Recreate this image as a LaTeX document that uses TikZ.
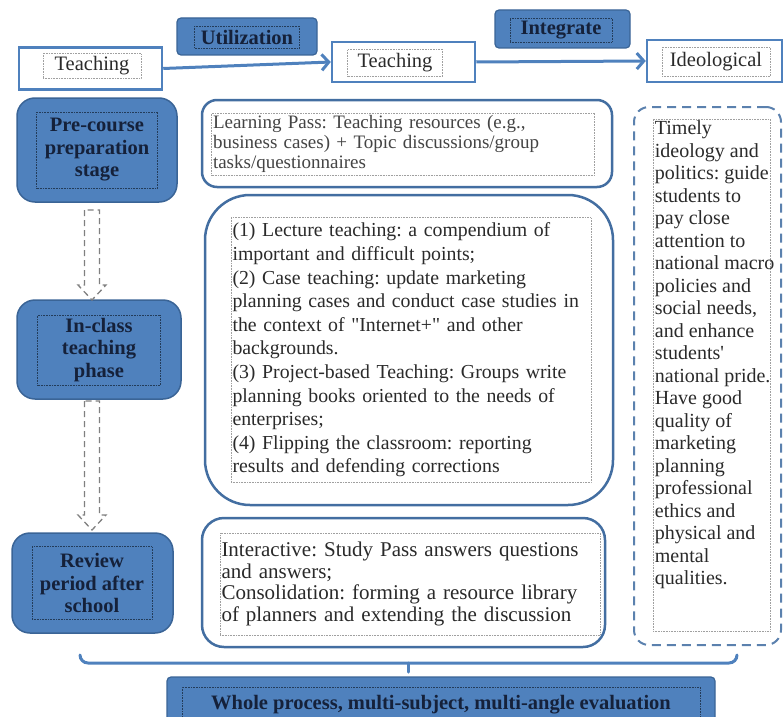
\documentclass[tikz,border=0pt]{standalone}
\usepackage{fontspec}
\setmainfont{Liberation Serif}
\newfontfamily\plainq{Liberation Serif}
\usetikzlibrary{arrows.meta,calc}
\definecolor{boxblue}{HTML}{4F81BD}
\definecolor{edgeblue}{HTML}{3A6496}
\definecolor{navy}{HTML}{15213A}
\definecolor{dotgray}{HTML}{A0A0A0}
\definecolor{inkgray}{HTML}{2A2A2A}
\definecolor{softgray}{HTML}{444444}
\tikzstyle{headbox}=[draw=boxblue,line width=2.5pt,fill=white,minimum width=143,minimum height=42]
\tikzstyle{tagbox}=[draw=edgeblue,line width=1.2pt,fill=boxblue,rounded corners=4pt]
\tikzstyle{stagebox}=[draw=edgeblue,line width=1.5pt,fill=boxblue,rounded corners=18pt]
\tikzstyle{contentbox}=[draw=boxblue!85!black,line width=2.5pt,fill=white]
\tikzstyle{dotframe}=[draw=dotgray,densely dotted,line width=0.6pt,inner sep=1.5pt,text=inkgray]
\tikzstyle{darkframe}=[draw=edgeblue!60!black,densely dotted,line width=0.6pt,inner sep=0pt,text=navy,align=center]
\tikzstyle{flow}=[draw=boxblue,line width=3pt,-{Straight Barb[length=7pt,width=16pt]}]
\tikzstyle{blockarr}=[draw=gray,line width=1.3pt,dash pattern=on 6pt off 4pt]
\tikzstyle{brace}=[draw=boxblue,line width=3pt,line cap=round]
\newcommand{\bodyfont}{\fontsize{19.8}{23.6}\selectfont}
\newcommand{\labelfont}{\fontsize{20.5}{22.5}\selectfont\bfseries}
\newcommand{\sq}{{\plainq"}}
\newcommand{\dashdown}[2]{\draw[blockarr] ($(#1)+(-7.5,0)$) -- ($(#2)+(-7.5,-15)$) -- ($(#2)+(-14,-15)$) -- (#2) -- ($(#2)+(14,-15)$) -- ($(#2)+(7.5,-15)$) -- ($(#1)+(7.5,0)$) -- cycle;}
\frenchspacing

\begin{document}
\begin{tikzpicture}[x=1pt,y=-1pt]
\useasboundingbox (0,0) rectangle (784,717);
% top row
\node[headbox] at (90.5, 68.5) (teach1) {};
\node[dotframe, minimum width=98, minimum height=25, font=\fontsize{20.5}{22}\selectfont] at (92, 66) (teach1in) {Teaching};
\node[tagbox, minimum width=140, minimum height=37] at (247, 36.5) (util) {};
\node[darkframe, minimum width=105, minimum height=22, font=\labelfont] at (247, 37) (utilin) {Utilization};
\node[headbox, minimum height=40] at (403.5, 62) (teach2) {};
\node[dotframe, minimum width=95, minimum height=27, font=\fontsize{20.5}{22}\selectfont] at (395, 63) (teach2in) {Teaching};
\node[tagbox, minimum width=135, minimum height=38] at (562.5, 29) (integ) {};
\node[darkframe, minimum width=102, minimum height=24, font=\labelfont] at (561, 30) (integin) {Integrate};
\node[headbox, minimum width=135] at (714.5, 61) (ideo) {};
\node[dotframe, minimum width=108, minimum height=29, font=\fontsize{20.5}{22}\selectfont] at (716, 62) (ideoin) {Ideological};
\draw[flow] (teach1.east) -- (teach2.west);
\draw[flow] (teach2.east) -- (ideo.west);

% stages on the left
\node[stagebox, minimum width=160, minimum height=104] at (97, 150) (pre) {};
\node[darkframe, minimum width=121, minimum height=76, font=\labelfont] at (97, 150) (prein) {Pre-course\\preparation\\stage};
\node[stagebox, minimum width=164, minimum height=99] at (99, 349.5) (incl) {};
\node[darkframe, minimum width=123, minimum height=70, font=\labelfont] at (99, 350) (inclin) {In-class\\teaching\\phase};
\node[stagebox, minimum width=161, minimum height=100] at (92.5, 583) (rev) {};
\node[darkframe, minimum width=120, minimum height=73, font=\labelfont] at (92, 583) (revin) {Review\\period after\\school};
\coordinate (a1top) at (92, 210);
\coordinate (a1tip) at (92, 300);
\coordinate (a2top) at (92, 401);
\coordinate (a2tip) at (92, 530);
\dashdown{a1top}{a1tip}
\dashdown{a2top}{a2tip}

% content in the middle
\node[contentbox, rounded corners=15pt, minimum width=410, minimum height=87] at (407, 143.5) (prebox) {};
\node[dotframe, text=softgray, minimum width=383, minimum height=62, text width=380, align=left, font=\fontsize{19}{19.8}\selectfont] at (403, 144) (preboxin) {Learning Pass: Teaching resources (e.g.,\\business cases) + Topic discussions/group\\tasks/questionnaires};
\node[contentbox, rounded corners=45pt, minimum width=408, minimum height=310] at (409, 350) (inclbox) {};
\node[dotframe, minimum width=360, minimum height=265, text width=357, align=left, font=\bodyfont] at (411, 350) (inclboxin) {(1) Lecture teaching: a compendium of\\important and difficult points;\\(2) Case teaching: update marketing\\planning cases and conduct case studies in\\the context of \sq Internet+\sq{} and other\\backgrounds.\\(3) Project-based Teaching: Groups write\\planning books oriented to the needs of\\enterprises;\\(4) Flipping the classroom: reporting\\results and defending corrections};
\node[contentbox, rounded corners=22pt, minimum width=403, minimum height=129] at (403.5, 582.5) (revbox) {};
\node[dotframe, minimum width=380, minimum height=102, text width=377, align=left, font=\fontsize{21}{21.5}\selectfont] at (410, 584) (revboxin) {Interactive: Study Pass answers questions\\and answers;\\Consolidation: forming a resource library\\of planners and extending the discussion};

% ideological column
\node[contentbox, draw=boxblue!75!gray, dash pattern=on 9pt off 6pt, line width=2pt, rounded corners=15pt, minimum width=147, minimum height=538] at (707.5, 376) (ideobox) {};
\node[dotframe, minimum width=117, minimum height=512] at (711.5, 375) (ideoboxin) {};
\node[anchor=north west, inner sep=2pt, align=left, text=inkgray, font=\fontsize{20}{22.5}\selectfont] at (ideoboxin.north west) (ideotext) {Timely\\ideology and\\politics: guide\\students to\\pay close\\attention to\\national macro\\policies and\\social needs,\\and enhance\\students{\plainq'}\\national pride.\\Have good\\quality of\\marketing\\planning\\professional\\ethics and\\physical and\\mental\\qualities.};

% evaluation at the bottom
\coordinate (bl) at (80, 655);
\coordinate (br) at (737, 655);
\coordinate (bm) at (408, 663);
\draw[brace] (bl) to[out=-90,in=180] ++(8,8) -- ($(br)+(-8,8)$) to[out=0,in=-90] (br);
\draw[brace] (bm) -- ++(0,9);
\node[tagbox, minimum width=548, minimum height=46] at (441, 700) (evalbox) {};
\node[darkframe, minimum width=518, minimum height=36, font=\fontsize{20.5}{22}\selectfont\bfseries] at (441, 705) (evalin) {Whole process, multi-subject, multi-angle evaluation};
\end{tikzpicture}
\end{document}
